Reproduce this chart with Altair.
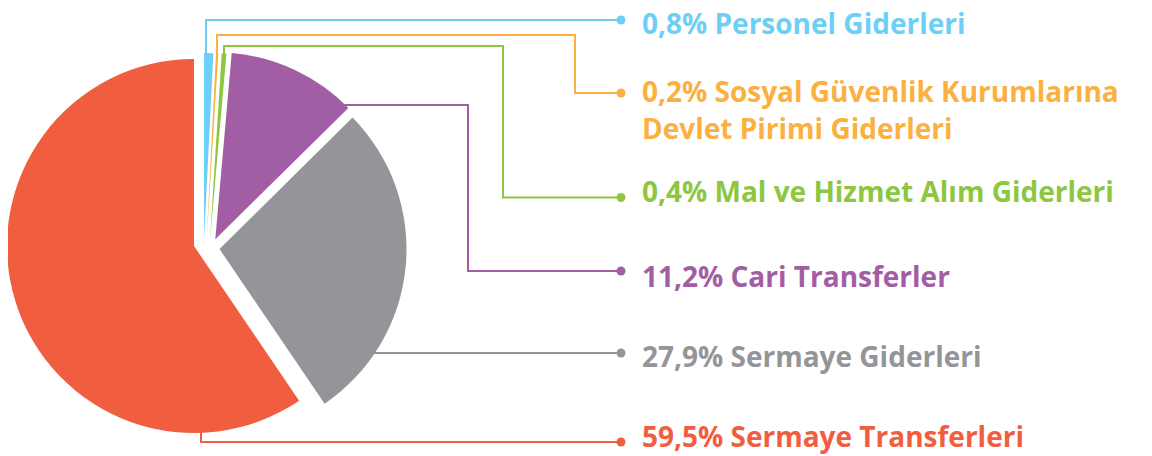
import math
import altair as alt
import pandas as pd

# ---------------- data ----------------
categories = [
    "Personel Giderleri",
    "Sosyal Güvenlik Kurumlarına Devlet Pirimi Giderleri",
    "Mal ve Hizmet Alım Giderleri",
    "Cari Transferler",
    "Sermaye Giderleri",
    "Sermaye Transferleri",
]
shares = [0.8, 0.2, 0.4, 11.2, 27.9, 59.5]
label_lines = [
    ["0,8% Personel Giderleri"],
    ["0,2% Sosyal Güvenlik Kurumlarına", "Devlet Pirimi Giderleri"],
    ["0,4% Mal ve Hizmet Alım Giderleri"],
    ["11,2% Cari Transferler"],
    ["27,9% Sermaye Giderleri"],
    ["59,5% Sermaye Transferleri"],
]

# ---------------- style / layout ----------------
colors = ["#6DCFF6", "#FBB040", "#8DC63F", "#A25EA5", "#939598", "#F15D3F"]
W, H = 1136, 446
M = 8  # page margin
RADIUS = 187
# slice centres (exploded layout), page pixels
slice_cx = [204, 206.6, 210, 215.3, 219.5, 194]
slice_cy = [240, 240, 240, 239.3, 249, 246]
# leader polylines, page pixels
leaders = [
    [(206, 58), (206, 20), (621, 20)],
    [(217, 58), (217, 35), (575, 35), (575, 93), (621, 93)],
    [(224, 58), (224, 46), (503, 46), (503, 197.5), (621, 197.5)],
    [(343, 105), (468, 105), (468, 271), (621, 271)],
    [(372, 353), (621, 353)],
    [(201, 428), (201, 442), (621, 442)],
]
label_x = 642
label_baselines = [[33.5], [101.5, 138.5], [201.5], [286.5], [366.5], [446.5]]

# ---------------- tables ----------------
pie_df = pd.DataFrame({
    "idx": list(range(len(categories))),
    "cat": categories,
    "share": shares,
    "cx": [v - M for v in slice_cx],
    "cy": [v - M for v in slice_cy],
})

line_rows, dot_rows = [], []
for cat, pts in zip(categories, leaders):
    for k, (px, py) in enumerate(pts):
        line_rows.append({"cat": cat, "k": k, "x": px - M, "y": py - M})
    ex, ey = pts[-1]
    dot_rows.append({"cat": cat, "x": ex - M, "y": ey - M})
line_df = pd.DataFrame(line_rows)
dot_df = pd.DataFrame(dot_rows)

text_rows = []
for cat, lines, bases in zip(categories, label_lines, label_baselines):
    for t, b in zip(lines, bases):
        text_rows.append({"cat": cat, "text": t, "x": label_x - M, "y": b - M})
text_df = pd.DataFrame(text_rows)

xs = alt.Scale(domain=[0, W], range=[0, W], nice=False, zero=False)
ys = alt.Scale(domain=[0, H], range=[0, H], nice=False, zero=False)
cs = alt.Scale(domain=categories, range=colors)
ts = alt.Scale(domain=[0, 100], range=[0, 2 * math.pi], zero=False, nice=False)

arcs = (
    alt.Chart(pie_df)
    .transform_window(cum="sum(share)", sort=[alt.SortField("idx")], frame=[None, 0])
    .transform_calculate(start="datum.cum - datum.share")
    .mark_arc(radius=RADIUS, strokeWidth=0)
    .encode(
        x=alt.X("cx:Q", scale=xs, axis=None),
        y=alt.Y("cy:Q", scale=ys, axis=None),
        theta=alt.Theta("start:Q", scale=ts, stack=False),
        theta2="cum:Q",
        color=alt.Color("cat:N", scale=cs, legend=None),
    )
)

lines = (
    alt.Chart(line_df)
    .mark_line(strokeWidth=2, strokeJoin="miter", strokeCap="butt")
    .encode(
        x=alt.X("x:Q", scale=xs, axis=None),
        y=alt.Y("y:Q", scale=ys, axis=None),
        detail="cat:N",
        order=alt.Order("k:Q"),
        color=alt.Color("cat:N", scale=cs, legend=None),
    )
)

dots = (
    alt.Chart(dot_df)
    .mark_circle(size=80, opacity=1)
    .encode(
        x=alt.X("x:Q", scale=xs, axis=None),
        y=alt.Y("y:Q", scale=ys, axis=None),
        color=alt.Color("cat:N", scale=cs, legend=None),
    )
)

texts = (
    alt.Chart(text_df)
    .mark_text(align="left", baseline="alphabetic", font="Open Sans", fontWeight="bold", fontSize=28)
    .encode(
        x=alt.X("x:Q", scale=xs, axis=None),
        y=alt.Y("y:Q", scale=ys, axis=None),
        text="text:N",
        color=alt.Color("cat:N", scale=cs, legend=None),
    )
)

chart = (
    alt.layer(lines, arcs, dots, texts)
    .properties(width=W, height=H, padding=0, autosize=alt.AutoSizeParams(type="none"))
    .configure_view(stroke=None)
)

chart.save("out.html", embed_options={"renderer": "svg", "actions": False})
